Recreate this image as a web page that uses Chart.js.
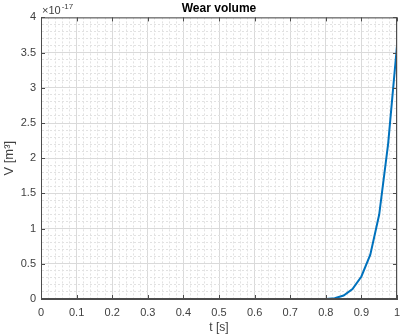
<!DOCTYPE html>
<html>
<head>
<meta charset="utf-8">
<script src="https://cdn.jsdelivr.net/npm/chart.js@4/dist/chart.umd.min.js"></script>
<style>
  html, body { margin: 0; padding: 0; background: #fff; }
  #wrap { width: 400px; height: 335px; position: relative; }
</style>
</head>
<body>
<div id="wrap"><canvas id="wear"></canvas></div>
<script>
// 时间 t [s]，步长 0.025
const tValues = [
  0, 0.025, 0.05, 0.075, 0.1, 0.125, 0.15, 0.175, 0.2, 0.225,
  0.25, 0.275, 0.3, 0.325, 0.35, 0.375, 0.4, 0.425, 0.45, 0.475,
  0.5, 0.525, 0.55, 0.575, 0.6, 0.625, 0.65, 0.675, 0.7, 0.725,
  0.75, 0.775, 0.8, 0.825, 0.85, 0.875, 0.9, 0.925, 0.95, 0.975, 1
];
// 磨损体积，单位 1e-17 m^3
const wearValues = [
  0, 0, 0, 0, 0, 0, 0, 0, 0, 0,
  0, 0, 0, 0, 0, 0, 0, 0, 0, 0,
  0, 0, 0, 0, 0, 0, 0, 0, 0, 0,
  0, 0, 0.001, 0.01, 0.05, 0.14, 0.32, 0.63, 1.2, 2.2, 3.6
];
const xTicksMajor = [0, 0.1, 0.2, 0.3, 0.4, 0.5, 0.6, 0.7, 0.8, 0.9, 1];
const yTicksMajor = [0, 0.5, 1, 1.5, 2, 2.5, 3, 3.5, 4];
const exponentBase = '\u00d710';
const exponentPower = '-17';

const LINE_BLUE = '#0072BD';
const AXIS_GRAY = '#4d4d4d';
const TEXT_GRAY = '#404040';
const FONT = '"Liberation Sans", Arial, Helvetica, sans-serif';

const isMajorX = v => xTicksMajor.some(m => Math.abs(m - v) < 1e-6);
const isMajorY = v => yTicksMajor.some(m => Math.abs(m - v) < 1e-6);

// 外框 + 内向刻度 + 指数标注
const framePlugin = {
  id: 'frame',
  afterDraw(chart) {
    const { ctx, chartArea: a, scales } = chart;
    ctx.save();
    ctx.strokeStyle = AXIS_GRAY;
    ctx.lineWidth = 1;
    ctx.strokeRect(a.left + 0.5, a.top + 0.5, a.right - a.left - 1, a.bottom - a.top - 1);
    ctx.beginPath();
    xTicksMajor.forEach(v => {
      const px = Math.round(scales.x.getPixelForValue(v)) + 0.5;
      ctx.moveTo(px, a.bottom); ctx.lineTo(px, a.bottom - 4);
      ctx.moveTo(px, a.top); ctx.lineTo(px, a.top + 4);
    });
    yTicksMajor.forEach(v => {
      const py = Math.round(scales.y.getPixelForValue(v)) + 0.5;
      ctx.moveTo(a.left, py); ctx.lineTo(a.left + 4, py);
      ctx.moveTo(a.right, py); ctx.lineTo(a.right - 4, py);
    });
    ctx.stroke();
    // ×10^-17
    ctx.fillStyle = TEXT_GRAY;
    ctx.textAlign = 'left';
    ctx.textBaseline = 'alphabetic';
    ctx.font = '11px ' + FONT;
    const bx = a.left + 1, by = a.top - 3;
    ctx.fillText(exponentBase, bx, by);
    const w = ctx.measureText(exponentBase).width;
    ctx.font = '8px ' + FONT;
    ctx.fillText(exponentPower, bx + w + 1, by - 5);
    ctx.restore();
  }
};

new Chart(document.getElementById('wear'), {
  type: 'line',
  data: {
    datasets: [{
      label: 'Wear volume',
      data: tValues.map((t, i) => ({ x: t, y: wearValues[i] })),
      borderColor: LINE_BLUE,
      borderWidth: 2,
      pointRadius: 0,
      fill: false,
      tension: 0
    }]
  },
  options: {
    responsive: true,
    maintainAspectRatio: false,
    animation: false,
    layout: { padding: { top: 0, right: 3, left: 0, bottom: 0 } },
    plugins: {
      legend: { display: false },
      tooltip: { enabled: false },
      title: {
        display: true,
        fullSize: false,
        text: 'Wear volume',
        color: '#000',
        font: { family: FONT, size: 12, weight: 'bold' },
        padding: { top: 1, bottom: 2 }
      }
    },
    scales: {
      x: {
        type: 'linear',
        min: 0,
        max: 1,
        afterFit: s => {
          s.height = 36;
          s.paddingLeft = 0;
          s.paddingRight = 0;
        },
        ticks: {
          stepSize: 0.02,
          autoSkip: false,
          maxRotation: 0,
          padding: 7,
          color: TEXT_GRAY,
          font: { family: FONT, size: 11 },
          callback: v => isMajorX(v) ? String(Math.round(v * 10) / 10) : ''
        },
        grid: {
          drawTicks: false,
          color: ctx => isMajorX(ctx.tick.value) ? '#dadada' : '#e2e2e2'
        },
        border: {
          color: AXIS_GRAY,
          dash: ctx => isMajorX(ctx.tick.value) ? [] : [2, 2]
        },
        title: {
          display: true,
          text: 't [s]',
          color: TEXT_GRAY,
          font: { family: FONT, size: 12 },
          padding: 0
        }
      },
      y: {
        type: 'linear',
        min: 0,
        max: 4,
        afterFit: s => { s.width = 41; },
        ticks: {
          stepSize: 0.1,
          autoSkip: false,
          padding: 5,
          color: TEXT_GRAY,
          font: { family: FONT, size: 11 },
          callback: v => isMajorY(v) ? String(Math.round(v * 2) / 2) : ''
        },
        grid: {
          drawTicks: false,
          color: ctx => isMajorY(ctx.tick.value) ? '#dadada' : '#e2e2e2'
        },
        border: {
          color: AXIS_GRAY,
          dash: ctx => isMajorY(ctx.tick.value) ? [] : [2, 2]
        },
        title: {
          display: true,
          text: 'V [m\u00b3]',
          color: TEXT_GRAY,
          font: { family: FONT, size: 13 },
          padding: { top: 2, bottom: 0 }
        }
      }
    }
  },
  plugins: [framePlugin]
});
</script>
</body>
</html>
